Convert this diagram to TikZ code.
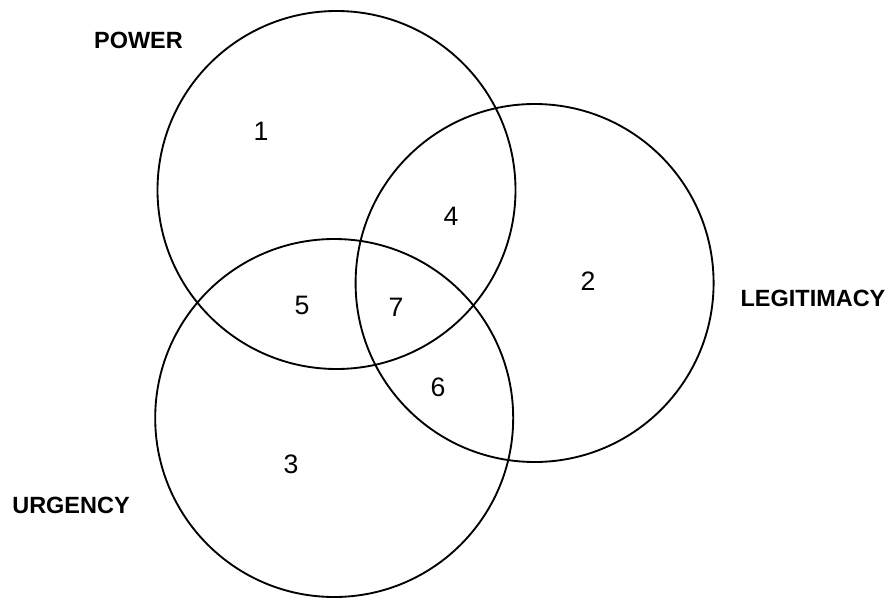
\documentclass[tikz,border=0pt]{standalone}
\usepackage{fontspec}
\setmainfont{Liberation Sans}
\begin{document}
\begin{tikzpicture}[x=0.75pt,y=-0.75pt,
  ring/.style={draw=black,line width=1.4pt},
  setlabel/.style={font=\fontsize{17.6}{20}\selectfont\bfseries,inner sep=0pt},
  region/.style={font=\fontsize{20}{24}\selectfont,inner sep=0pt}]
\useasboundingbox (0,0) rectangle (890,600);
\draw[ring] (336.5,190) circle[radius=179];
\draw[ring] (534.6,283) circle[radius=179];
\draw[ring] (334.2,418) circle[radius=179];
\node[setlabel] (power) at (138.5,40) {POWER};
\node[setlabel] (legit) at (813,298) {LEGITIMACY};
\node[setlabel] (urg) at (71,505) {URGENCY};
\node[region] (r1) at (261,131) {1};
\node[region] (r4) at (451,216) {4};
\node[region] (r2) at (588,281) {2};
\node[region] (r5) at (302,305) {5};
\node[region] (r7) at (396,307) {7};
\node[region] (r6) at (438,387) {6};
\node[region] (r3) at (291,464) {3};
\end{tikzpicture}
\end{document}
